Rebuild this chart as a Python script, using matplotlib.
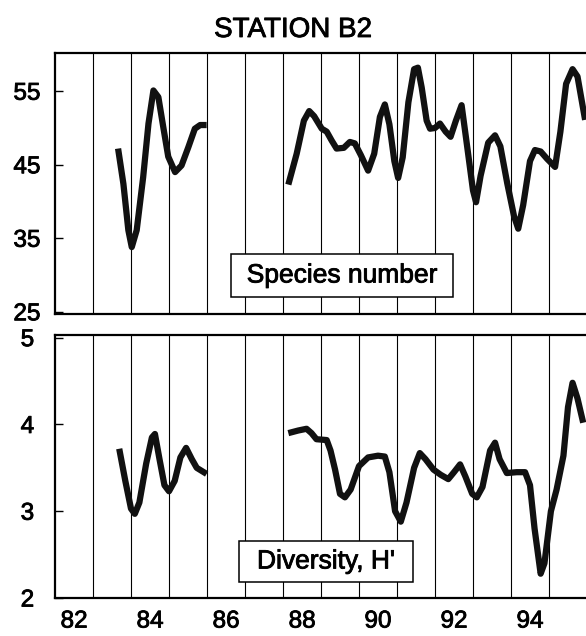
import matplotlib.pyplot as plt
import matplotlib.patheffects as pe
from matplotlib.patches import Rectangle

# Sampling dates (decimal year, 19xx) and values, two sampling periods each
species_years_a = [83.66, 83.8, 83.93, 84.02, 84.15, 84.32, 84.46, 84.59,
                   84.72, 84.85, 84.98, 85.16, 85.33, 85.51, 85.68, 85.82,
                   85.99]
species_a = [47.2, 42.4, 36.1, 33.8, 36.1, 43.3, 50.6, 55.1,
             54.2, 50.1, 46.1, 44.0, 44.9, 47.4, 49.9, 50.4,
             50.4]

species_years_b = [88.14, 88.36, 88.55, 88.69, 88.82, 89.02, 89.15, 89.28,
                   89.41, 89.6, 89.76, 89.89, 90.05, 90.24, 90.4, 90.55,
                   90.68, 90.8, 90.93, 91.03, 91.15, 91.3, 91.45, 91.55,
                   91.65, 91.78, 91.87, 92.0, 92.13, 92.28, 92.41, 92.55,
                   92.7, 92.82, 93.0, 93.08, 93.2, 93.4, 93.58, 93.72,
                   93.9, 94.08, 94.19, 94.32, 94.5, 94.63, 94.78, 94.95,
                   95.16, 95.3, 95.45, 95.62, 95.75, 95.95]
species_b = [42.3, 46.5, 51.0, 52.3, 51.6, 49.9, 49.5, 48.3,
             47.2, 47.3, 48.1, 47.9, 46.3, 44.2, 46.5, 51.5,
             53.2, 50.5, 45.5, 43.2, 46.0, 53.5, 58.0, 58.2,
             55.5, 51.0, 49.9, 50.0, 50.6, 49.5, 48.8, 51.0,
             53.1, 48.5, 41.5, 39.9, 43.5, 48.0, 49.0, 47.5,
             42.5, 38.0, 36.3, 39.5, 45.5, 47.0, 46.8, 45.8,
             44.7, 49.5, 56.0, 58.0, 57.0, 51.1]

diversity_years_a = [83.69, 83.85, 84.0, 84.1, 84.22, 84.4, 84.55, 84.63,
                     84.75, 84.88, 85.0, 85.15, 85.3, 85.45, 85.6, 85.73,
                     85.99]
diversity_a = [3.72, 3.35, 3.03, 2.97, 3.1, 3.55, 3.85, 3.89,
               3.6, 3.3, 3.23, 3.35, 3.62, 3.73, 3.6, 3.50,
               3.43]

diversity_years_b = [88.14, 88.4, 88.62, 88.75, 88.88, 89.15, 89.25, 89.37,
                     89.5, 89.63, 89.78, 90.0, 90.24, 90.5, 90.68, 90.8,
                     90.95, 91.1, 91.25, 91.45, 91.6, 91.75, 91.96, 92.15,
                     92.35, 92.5, 92.66, 92.8, 92.98, 93.1, 93.25, 93.45,
                     93.58, 93.7, 93.89, 94.15, 94.37, 94.5, 94.62, 94.78,
                     94.88, 95.05, 95.2, 95.38, 95.5, 95.62, 95.75, 95.9]
diversity_b = [3.90, 3.93, 3.95, 3.90, 3.83, 3.82, 3.7, 3.48,
               3.2, 3.16, 3.25, 3.52, 3.62, 3.64, 3.63, 3.45,
               3.0, 2.88, 3.1, 3.5, 3.67, 3.6, 3.48, 3.42,
               3.37, 3.45, 3.54, 3.4, 3.2, 3.16, 3.28, 3.7,
               3.79, 3.6, 3.44, 3.45, 3.45, 3.3, 2.8, 2.28,
               2.4, 3.0, 3.25, 3.64, 4.2, 4.48, 4.3, 4.02]

year_labels = ['82', '84', '86', '88', '90', '92', '94']
species_ticks = [25, 35, 45, 55]
diversity_ticks = [2, 3, 4, 5]

font = 'Liberation Sans'
# slightly heavier strokes on the lettering
ink = [pe.withStroke(linewidth=0.6, foreground='black')]


def style_panel(ax, yticks, ylim, label_pad):
    ax.set_xlim(82, 96)
    ax.set_ylim(*ylim)
    # one grid line per year, labels centred in the even years
    ax.set_xticks(range(83, 96))
    ax.set_xticks([int(l) + 0.5 for l in year_labels], minor=True)
    ax.tick_params(axis='x', which='both', length=0)
    ax.grid(axis='x', which='major', color='black', linewidth=0.8)
    ax.set_axisbelow(True)
    ax.set_yticks(yticks)
    ax.set_yticklabels([str(t) for t in yticks], fontsize=17.5,
                       fontfamily=font, path_effects=ink)
    ax.tick_params(axis='y', direction='in', length=6, width=1,
                   pad=label_pad, colors='black')
    for side in ['left', 'top', 'bottom']:
        ax.spines[side].set_linewidth(1.6)
    ax.spines['right'].set_visible(False)


def label_box(ax, text, x0, x1, y0, y1):
    ax.add_patch(Rectangle((x0, y0), x1 - x0, y1 - y0,
                           transform=ax.transAxes, facecolor='white',
                           edgecolor='black', linewidth=1.1, zorder=4))
    ax.text((x0 + x1) / 2, (y0 + y1) / 2, text, transform=ax.transAxes,
            ha='center', va='center', fontsize=19, fontfamily=font,
            path_effects=ink, zorder=5)


def main():
    fig = plt.figure(figsize=(5.86, 6.36), dpi=100)
    ax1 = fig.add_axes([55 / 586, 0.5063, 532 / 586, 0.4104])
    ax2 = fig.add_axes([55 / 586, 0.0597, 532 / 586, 0.4135])

    line_kw = dict(color='#111111', linewidth=4.5, solid_joinstyle='round',
                   solid_capstyle='butt', zorder=3)

    ax1.plot(species_years_a, species_a, **line_kw)
    ax1.plot(species_years_b, species_b, **line_kw)
    style_panel(ax1, species_ticks, (24.7, 60.2), 10.5)
    ax1.set_xticklabels([])
    ax1.set_xticklabels([], minor=True)
    label_box(ax1, 'Species number', 0.331, 0.748, 0.065, 0.230)

    ax2.plot(diversity_years_a, diversity_a, **line_kw)
    ax2.plot(diversity_years_b, diversity_b, **line_kw)
    style_panel(ax2, diversity_ticks, (2.0, 5.03), 15)
    ax2.set_xticklabels([])
    ax2.set_xticklabels(year_labels, minor=True, fontsize=17.5,
                        fontfamily=font, path_effects=ink)
    ax2.tick_params(axis='x', which='minor', pad=9)
    label_box(ax2, "Diversity, H'", 0.346, 0.673, 0.061, 0.217)

    fig.text(0.5, 1 - 30 / 636, 'STATION B2', ha='center', va='center',
             fontsize=20, fontfamily=font, path_effects=ink)

    fig.savefig('out.png', dpi=100)


if __name__ == '__main__':
    main()
